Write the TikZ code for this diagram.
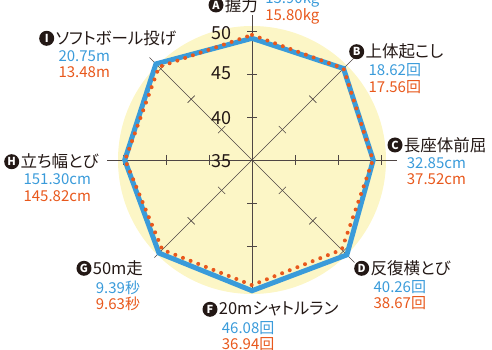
\documentclass[tikz,border=0pt]{standalone}
\usepackage{fontspec}
\setmainfont{Noto Sans CJK JP}[RawFeature=+palt]
\usetikzlibrary{positioning}

\definecolor{chartblue}{RGB}{58,155,218}
\definecolor{chartorange}{RGB}{232,88,28}
\definecolor{disk}{RGB}{252,246,198}
\definecolor{ink}{RGB}{35,24,21}

\newcommand{\unitpx}{8.6}
\tikzset{
  axisline/.style={ink!80,line width=0.6pt},
  badge/.style={circle,fill=ink,text=white,inner sep=0pt,minimum size=15pt,font=\fontsize{11}{11}\selectfont\bfseries},
  itemname/.style={inner sep=0pt,text=ink,font=\fontsize{16.5}{18}\selectfont},
  vals/.style={inner sep=0pt,align=left,font=\fontsize{15}{16.5}\selectfont},
  scalelab/.style={inner sep=0pt,text=ink,font=\fontsize{18}{18}\selectfont},
  blueline/.style={chartblue,line width=5pt,line join=miter},
  orangedots/.style={chartorange,line width=4pt,line cap=round,dash pattern=on 0pt off 8.2pt}
}

\begin{document}
\begin{tikzpicture}[x=1pt,y=1pt]
    \useasboundingbox (-252,-190) rectangle (240,160);
    \clip (-252,-190) rectangle (240,160);
    % pale disk behind the chart
    \fill[disk] (0,0) circle (134);
    % draw the axes and their ticks
    \foreach \a/\len in {90/145, 45/145, 0/145, -45/145, -90/133, -135/138, 180/145, 135/145}
    {
      \draw[axisline] (0,0) -- (\a:\len);
      \foreach \r in {43,86,129}
      \draw[axisline,shift={(\a:\r)},rotate=\a] (0,-5) -- (0,5);
    }
    \foreach \v/\r in {35/-1.5, 40/41.7, 45/86.7, 50/126.7}
    \node[scalelab] (s\v) at (-31,\r) {\v};
    % blue line
    \foreach \a/\s [count=\i] in {90/49.15, 45/50.05, 0/49.1, -45/50.6, -90/50.2, -135/50.3, 180/49.8, 135/50.8}
    \coordinate (b\i) at (\a:{(\s-35)*\unitpx});
    \draw[blueline] (b1) -- (b2) -- (b3) -- (b4) -- (b5) -- (b6) -- (b7) -- (b8) -- cycle;
    % orange dots
    \foreach \a/\s [count=\i] in {90/49.55, 45/50.05, 0/49.05, -45/49.75, -90/49.55, -135/49.75, 180/49.75, 135/50.3}
    \coordinate (o\i) at (\a:{(\s-35)*\unitpx});
    \draw[orangedots] (o1) -- (o2) -- (o3) -- (o4) -- (o5) -- (o6) -- (o7) -- (o8) -- cycle;
    % item labels
    \node[badge] (cA) at (-36,155) {A};
    \node[itemname,right=1pt of cA] (tA) {握力};
    \node[vals,right=7pt of tA,yshift=-3pt] (vA) {\textcolor{chartblue}{15.90kg}\\\textcolor{chartorange}{15.80kg}};
    \foreach \n/\x/\y/\t/\bv/\ov in {B/104.7/108.3/上体起こし/18.62回/17.56回,
      C/143/15/長座体前屈/32.85cm/37.52cm,
      D/109.7/-108.3/反復横とび/40.26回/38.67回,
      F/-42/-149.3/20mシャトルラン/46.08回/36.94回,
      G/-168/-108.3/50m走/9.39秒/9.63秒,
      H/-240.3/-1.7/立ち幅とび/151.30cm/145.82cm,
      I/-205.3/121.7/ソフトボール投げ/20.75m/13.48m}
    {
      \node[badge] (c\n) at (\x,\y) {\n};
      \node[itemname,right=1pt of c\n] (t\n) {\t};
      \node[vals,below right=12pt and 4pt of c\n.east] (v\n) {\textcolor{chartblue}{\bv}\\\textcolor{chartorange}{\ov}};
    }
\end{tikzpicture}
\end{document}
